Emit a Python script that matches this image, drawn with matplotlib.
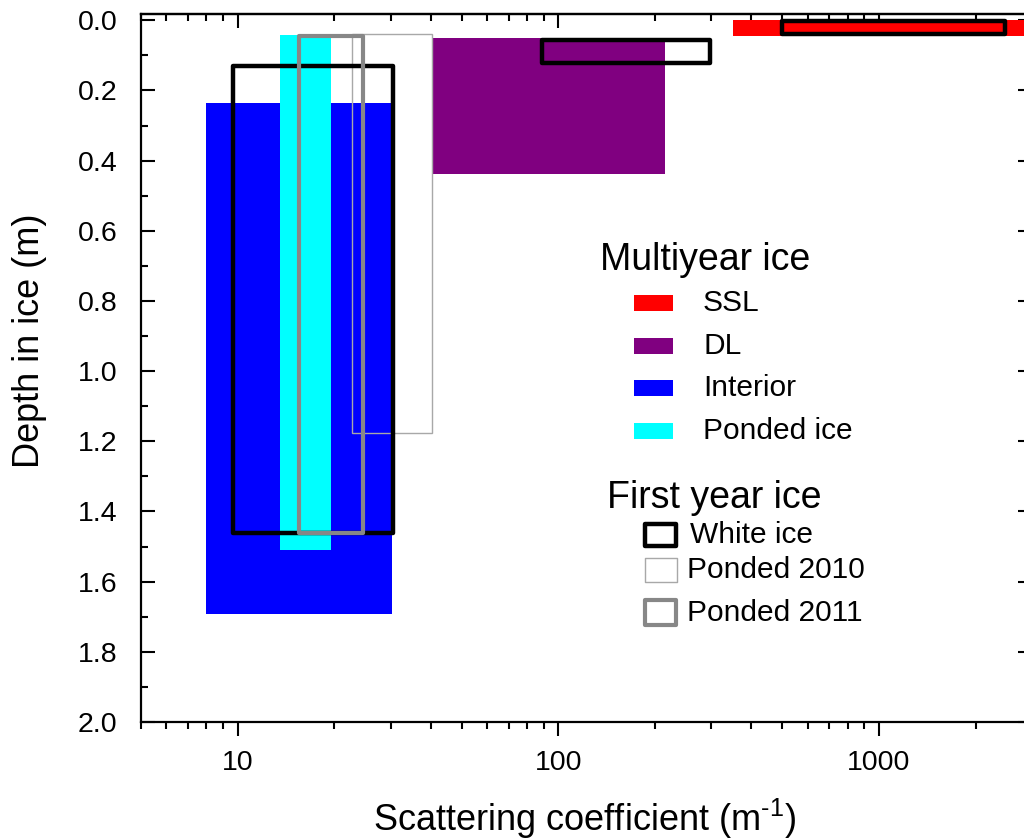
import matplotlib
matplotlib.use("Agg")
import matplotlib.pyplot as plt
from matplotlib.patches import Rectangle
from matplotlib.ticker import FixedLocator, MultipleLocator, NullFormatter, FuncFormatter, LogLocator

plt.rcParams['font.family'] = ['Liberation Sans', 'DejaVu Sans']
plt.rcParams['mathtext.fontset'] = 'custom'
plt.rcParams['mathtext.rm'] = 'Liberation Sans'
plt.rcParams['mathtext.it'] = 'Liberation Sans:italic'

# --- DATA (scattering coefficient ranges in 1/m, depth ranges in m) ---
myi_labels = ["SSL", "DL", "Interior", "Ponded ice"]
myi_colors = ["#ff0000", "#800080", "#0000ff", "#00ffff"]
myi_x_lo = [350, 40.4, 8.0, 13.6]
myi_x_hi = [4000, 215, 30.4, 19.6]
myi_top = [0.0, 0.049, 0.235, 0.041]
myi_bottom = [0.044, 0.437, 1.693, 1.51]

white_x_lo = [9.7, 89, 498]
white_x_hi = [30.6, 297, 2480]
white_top = [0.131, 0.057, 0.003]
white_bottom = [1.461, 0.121, 0.039]

p2010_x_lo = [22.7]
p2010_x_hi = [40.4]
p2010_top = [0.039]
p2010_bottom = [1.175]

p2011_x_lo = [15.5]
p2011_x_hi = [24.7]
p2011_top = [0.044]
p2011_bottom = [1.46]

x_ticks = [10, 100, 1000]
y_ticks = [0.0, 0.2, 0.4, 0.6, 0.8, 1.0, 1.2, 1.4, 1.6, 1.8, 2.0]

W, H = 1024, 839
fig = plt.figure(figsize=(W / 100, H / 100), dpi=100)
ax = fig.add_axes([141 / W, (H - 722) / H, 891 / W, 708 / H])
ax.set_xscale('log')


def boxes(x_lo, x_hi, top, bottom, **kw):
    widths = [b - a for a, b in zip(x_lo, x_hi)]
    heights = [b - t for t, b in zip(top, bottom)]
    return ax.bar(x_lo, heights, width=widths, bottom=top, align='edge', **kw)


# filled multiyear ice ranges (draw interior first, then the rest)
for i in [2, 3, 1, 0]:
    boxes([myi_x_lo[i]], [myi_x_hi[i]], [myi_top[i]], [myi_bottom[i]],
          color=myi_colors[i], linewidth=0, zorder=2)

# first year ice outlines
boxes(p2010_x_lo, p2010_x_hi, p2010_top, p2010_bottom, facecolor='none',
      edgecolor='#a8a8a8', linewidth=1.0, zorder=3)
for b in boxes(white_x_lo, white_x_hi, white_top, white_bottom, facecolor='none',
               edgecolor='black', linewidth=3.2, zorder=4):
    b.set_joinstyle('round')
for b in boxes(p2011_x_lo, p2011_x_hi, p2011_top, p2011_bottom, facecolor='none',
               edgecolor='#878787', linewidth=3.0, zorder=5):
    b.set_joinstyle('round')

ax.set_xlim(5, 3000)
ax.set_ylim(2.0, -0.018)

# --- axes styling (Origin-like) ---
for s in ax.spines.values():
    s.set_linewidth(1.6)
ax.xaxis.set_major_locator(FixedLocator(x_ticks))
ax.xaxis.set_minor_locator(LogLocator(base=10, subs=range(2, 10), numticks=20))
ax.xaxis.set_major_formatter(FuncFormatter(lambda v, p: f"{v:g}"))
ax.xaxis.set_minor_formatter(NullFormatter())
ax.yaxis.set_major_locator(FixedLocator(y_ticks))
ax.yaxis.set_minor_locator(MultipleLocator(0.1))
ax.yaxis.set_major_formatter(FuncFormatter(lambda v, p: f"{v:.1f}"))

ax.tick_params(axis='x', which='both', direction='out', top=False, labelsize=20.5, pad=10)
ax.tick_params(axis='y', which='both', direction='in', left=True, right=True, labelsize=20.5, pad=17)
ax.tick_params(which='major', length=10, width=1.5)
ax.tick_params(which='minor', length=5, width=1.5)

top = ax.secondary_xaxis('top')
top.xaxis.set_major_locator(FixedLocator(x_ticks))
top.xaxis.set_minor_locator(LogLocator(base=10, subs=range(2, 10), numticks=20))
top.tick_params(which='both', direction='in', labeltop=False, width=1.5)
top.tick_params(which='major', length=10)
top.tick_params(which='minor', length=5)
top.spines['top'].set_linewidth(1.6)

ax.set_xlabel(r"Scattering coefficient (m$^{\text{-}1}$)", fontsize=26)
ax.set_ylabel("Depth in ice (m)", fontsize=26)
ax.xaxis.set_label_coords(0.498, -0.105)
ax.yaxis.set_label_coords(-0.1055, 0.538)

# --- legend, drawn by hand in figure pixels ---
def fx(px):
    return px / W


def fy(py):
    return 1 - py / H


fig.text(fx(600), fy(260), "Multiyear ice", fontsize=27, va='center', ha='left')
myi_rows = [303, 346, 388, 431]
for lab, col, yc in zip(myi_labels, myi_colors, myi_rows):
    fig.add_artist(Rectangle((fx(634), fy(yc + 8)), fx(39), 16 / H, transform=fig.transFigure,
                             facecolor=col, edgecolor='none'))
    fig.text(fx(703), fy(yc), lab, fontsize=21.5, va='center', ha='left')

fig.text(fx(607), fy(498), "First year ice", fontsize=27, va='center', ha='left')
fyi_keys = [("White ice", 'black', 3.2, 645, 524, 31, 22, 690, 535),
            ("Ponded 2010", '#a8a8a8', 1.0, 645, 558, 32, 24, 687, 570),
            ("Ponded 2011", '#878787', 3.0, 645, 600, 31, 25, 687, 613)]
for lab, col, lw, x0, y0, w, h, tx, ty in fyi_keys:
    r = Rectangle((fx(x0), fy(y0 + h)), fx(w), h / H, transform=fig.transFigure,
                  facecolor='white', edgecolor=col, linewidth=lw)
    r.set_joinstyle('round')
    fig.add_artist(r)
    fig.text(fx(tx), fy(ty), lab, fontsize=21.5, va='center', ha='left')

fig.savefig("out.png", dpi=100)
